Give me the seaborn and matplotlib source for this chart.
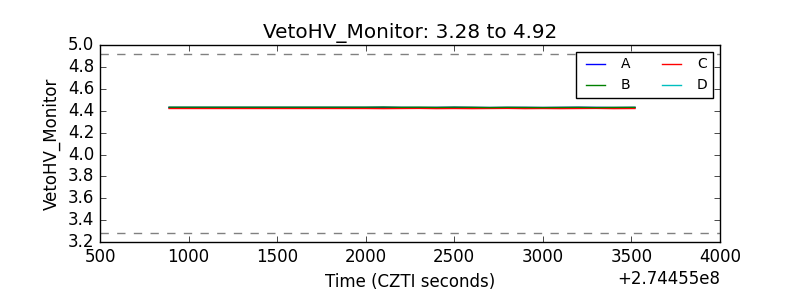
import matplotlib
matplotlib.use("Agg")
import matplotlib.pyplot as plt
from matplotlib.ticker import ScalarFormatter
import seaborn as sns
import pandas as pd

offset = 2.74455e8
times = [890, 1500, 2000, 2100, 2200, 2300, 2400, 2500, 2600, 2700, 2800, 2900, 3000, 3100, 3200, 3300, 3400, 3520]
vals_A = [4.430, 4.430, 4.430, 4.431, 4.430, 4.429, 4.430, 4.431, 4.430, 4.429, 4.430, 4.430, 4.429, 4.430, 4.431, 4.430, 4.429, 4.430]
vals_B = [4.432, 4.432, 4.432, 4.433, 4.431, 4.432, 4.430, 4.432, 4.431, 4.429, 4.431, 4.430, 4.429, 4.430, 4.431, 4.429, 4.430, 4.431]
vals_C = [4.420, 4.420, 4.420, 4.419, 4.420, 4.421, 4.419, 4.420, 4.419, 4.420, 4.421, 4.419, 4.420, 4.419, 4.420, 4.421, 4.419, 4.420]
vals_D = [4.425, 4.425, 4.425, 4.428, 4.424, 4.427, 4.425, 4.428, 4.424, 4.426, 4.424, 4.427, 4.425, 4.424, 4.426, 4.425, 4.424, 4.425]
lo, hi = 3.28, 4.92

series = {"A": vals_A, "B": vals_B, "C": vals_C, "D": vals_D}
colors = {"A": "blue", "B": "green", "C": "red", "D": "c"}

plt.style.use("classic")
fig = plt.figure(figsize=(8, 3), dpi=100, facecolor="white")
ax = fig.add_axes([0.125, 0.193, 0.775, 0.657])

for name in ["D", "A", "C", "B"]:
    df = pd.DataFrame({"t": [offset + t for t in times], "v": series[name]})
    sns.lineplot(data=df, x="t", y="v", ax=ax, color=colors[name], lw=1, label=name)
h, l = ax.get_legend_handles_labels()
hd = dict(zip(l, h))
ax.axhline(lo, color="gray", ls="--", lw=1)
ax.axhline(hi, color="gray", ls="--", lw=1)
ax.set_xlim(offset + 500, offset + 4000)
ax.set_ylim(3.2, 5.0)
fmt = ScalarFormatter(useOffset=offset)
ax.xaxis.set_major_formatter(fmt)
ax.set_xlabel("Time (CZTI seconds)")
ax.set_ylabel("VetoHV_Monitor")
ax.set_title("VetoHV_Monitor: %.2f to %.2f" % (lo, hi))
ax.legend([hd[k] for k in "ABCD"], list("ABCD"), ncol=2, loc="upper right", fontsize=10)
fig.savefig("out.png", dpi=100, facecolor="white")
